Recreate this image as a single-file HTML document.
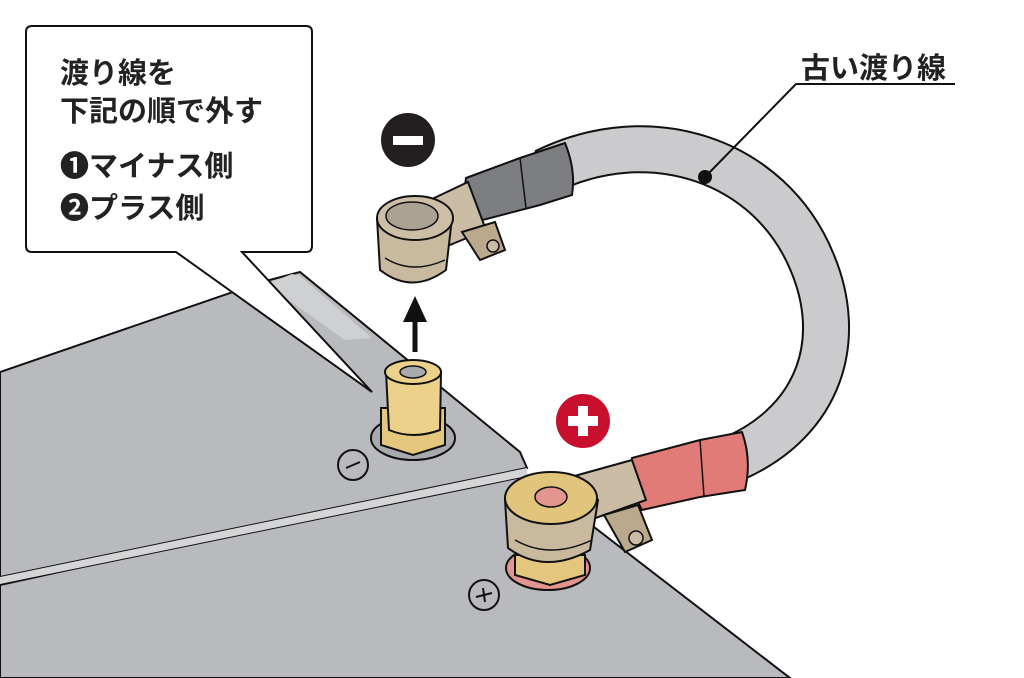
<!DOCTYPE html>
<html><head><meta charset="utf-8"><style>
html,body{margin:0;padding:0;background:#fff;}
svg{display:block}
text{font-family:"Liberation Sans","Noto Sans CJK JP",sans-serif;}
</style></head><body>
<svg width="1024" height="678" viewBox="0 0 1024 678" xmlns="http://www.w3.org/2000/svg">
<!-- lower battery -->
<polygon points="0,585 520,470 790,678 0,678" fill="#b9babd" stroke="#111" stroke-width="2"/>
<!-- upper battery plate -->
<polygon points="0,372 262,282 300,272 520,452 527,468 0,577" fill="#b9babd" stroke="#111" stroke-width="2"/>
<polygon points="266,284 292,274 300,276 372,338 345,340" fill="#cfd0d2"/>
<line x1="0" y1="584" x2="527" y2="476" stroke="#111" stroke-width="2"/>
<polygon points="0,577 527,468 527,476 0,584" fill="#d4d5d7"/>
<!-- callout -->
<path d="M32,26 H306 Q312,26 312,32 V246 Q312,252 306,252 H242 L372,392 L176,252 H32 Q26,252 26,246 V32 Q26,26 32,26 Z" fill="#fff" stroke="#111" stroke-width="2"/>
<text x="60" y="83" font-size="29" font-weight="bold" fill="#222">渡り線を</text>
<text x="60" y="121" font-size="29" font-weight="bold" fill="#222">下記の順で外す</text>
<text x="60" y="176" font-size="29" font-weight="bold" fill="#222">❶マイナス側</text>
<text x="60" y="218" font-size="29" font-weight="bold" fill="#222">❷プラス側</text>
<!-- sign circles -->
<circle cx="408" cy="140" r="27" fill="#231f20"/>
<rect x="393" y="136" width="30" height="9" fill="#fff"/>
<circle cx="583" cy="421" r="27" fill="#c8102e"/>
<rect x="568" y="416" width="30" height="10" fill="#fff"/>
<rect x="578" y="406" width="10" height="30" fill="#fff"/>
<!-- small marks -->
<circle cx="353" cy="465" r="15" fill="none" stroke="#111" stroke-width="2"/>
<line x1="346" y1="468" x2="360" y2="462" stroke="#111" stroke-width="2"/>
<circle cx="484" cy="595" r="15" fill="none" stroke="#111" stroke-width="2"/>
<line x1="476" y1="597" x2="492" y2="593" stroke="#111" stroke-width="2"/>
<line x1="483" y1="588" x2="485" y2="602" stroke="#111" stroke-width="2"/>
<!-- arrow -->
<line x1="415" y1="352" x2="415" y2="318" stroke="#111" stroke-width="5"/>
<polygon points="415,296 403,322 427,322" fill="#111"/>
<!-- minus post -->
<ellipse cx="413" cy="438" rx="42" ry="22" fill="#a9aaad" stroke="#111" stroke-width="2"/>
<polygon points="381,408 445,408 445,445 413,455 381,445" fill="#e4c77c" stroke="#111" stroke-width="2"/>
<path d="M386,372 L389,430 Q413,440 440,430 L441,372 Z" fill="#ebd189" stroke="#111" stroke-width="2"/>
<ellipse cx="413" cy="372" rx="28" ry="12" fill="#ebd189" stroke="#111" stroke-width="2"/>
<ellipse cx="413" cy="372" rx="13" ry="6" fill="#a9aaad" stroke="#111" stroke-width="1.5"/>
<!-- cable -->
<path d="M545,172 C650,120 770,160 812,262 C845,340 820,420 735,458" fill="none" stroke="#111" stroke-width="48"/>
<path d="M545,172 C650,120 770,160 812,262 C845,340 820,420 735,458" fill="none" stroke="#cbcbcd" stroke-width="44"/>
<!-- dark sleeve -->
<path d="M466,178 L520,158 L565,143 Q576,170 572,195 L540,205 L475,222 Q462,200 466,178 Z" fill="#7d7e82" stroke="#111" stroke-width="2"/>
<line x1="520" y1="158" x2="526" y2="208" stroke="#111" stroke-width="1.5"/>
<!-- red sleeve -->
<path d="M632,458 L700,440 L742,432 Q752,460 745,490 L700,497 L642,510 Q628,485 632,458 Z" fill="#e07b78" stroke="#111" stroke-width="2"/>
<line x1="700" y1="440" x2="704" y2="496" stroke="#111" stroke-width="1.5"/>
<!-- minus clamp -->
<polygon points="430,200 468,182 486,230 450,245" fill="#cbbda5" stroke="#111" stroke-width="2"/>
<path d="M462,232 L495,222 L505,250 L480,260 Z" fill="#bba98d" stroke="#111" stroke-width="2"/>
<circle cx="493" cy="246" r="6" fill="#cbbda5" stroke="#111" stroke-width="1.5"/>
<path d="M377,218 L380,270 Q412,295 446,270 L452,218 Z" fill="#c8b99f" stroke="#111" stroke-width="2"/>
<ellipse cx="415" cy="218" rx="38" ry="22" fill="#cdbfa6" stroke="#111" stroke-width="2"/>
<ellipse cx="412" cy="216" rx="26" ry="14" fill="#aaa293" stroke="#111" stroke-width="1.5"/>
<path d="M385,258 Q412,275 445,260" fill="none" stroke="#111" stroke-width="1.5"/>
<!-- plus post / clamp -->
<ellipse cx="548" cy="568" rx="42" ry="22" fill="#e39590" stroke="#111" stroke-width="2"/>
<polygon points="515,555 585,555 585,575 550,585 515,575" fill="#e4c77c" stroke="#111" stroke-width="2"/>
<polygon points="560,480 632,460 646,500 590,520" fill="#cbbda5" stroke="#111" stroke-width="2"/>
<path d="M604,515 L638,505 L652,540 L625,552 Z" fill="#bba98d" stroke="#111" stroke-width="2"/>
<circle cx="636" cy="538" r="7" fill="#cbbda5" stroke="#111" stroke-width="1.5"/>
<path d="M505,500 L508,548 Q545,575 590,550 L598,500 Z" fill="#c8b99f" stroke="#111" stroke-width="2"/>
<ellipse cx="551" cy="498" rx="46" ry="26" fill="#e1c57c" stroke="#111" stroke-width="2"/>
<ellipse cx="551" cy="497" rx="16" ry="10" fill="#e39590" stroke="#111" stroke-width="1.5"/>
<path d="M515,540 Q550,560 592,540" fill="none" stroke="#111" stroke-width="1.5"/>
<!-- label -->
<text x="801" y="78" font-size="29" font-weight="bold" fill="#222">古い渡り線</text>
<polyline points="955,84 796,84 705,177" fill="none" stroke="#111" stroke-width="2"/>
<circle cx="705" cy="177" r="7" fill="#111"/>
</svg>
</body></html>
